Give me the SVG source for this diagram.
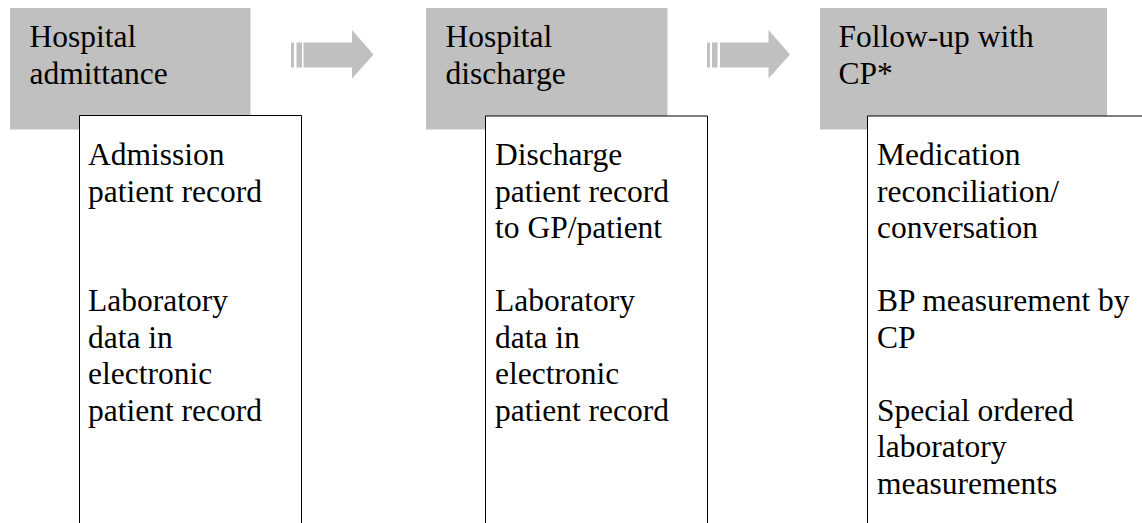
<svg xmlns="http://www.w3.org/2000/svg" width="1142" height="523" viewBox="0 0 1142 523">
  <style>
    .stage { fill: #c0c0c0; }
    .detail { fill: #ffffff; stroke: #000000; stroke-width: 1; }
    .flow { fill: #c0c0c0; }
    .label { font-family: 'Liberation Serif', 'Times New Roman', Times, serif; font-size: 31.5px; fill: #000000; }
  </style>
  <rect width="1142" height="523" fill="#ffffff"/>

  <!-- Flow arrows between the stages -->
  <g id="connectors">
    <g id="arrow-1" class="flow">
      <rect x="291" y="42.5" width="3" height="25"/>
      <rect x="296.5" y="42.5" width="5.5" height="25"/>
      <polygon points="303.5,42.5 352,42.5 352,30 373.5,54.5 352,78.5 352,67.5 303.5,67.5"/>
    </g>
    <g id="arrow-2" class="flow">
      <rect x="707" y="42.5" width="3" height="25"/>
      <rect x="712" y="42.5" width="5.5" height="25"/>
      <polygon points="720,42.5 768.5,42.5 768.5,30 790,54.5 768.5,78.5 768.5,67.5 720,67.5"/>
    </g>
  </g>

  <!-- Stage 1: hospital admittance -->
  <g id="stage-admittance" class="label">
    <rect class="stage" x="10" y="8" width="240.5" height="121.5"/>
    <text x="29.5" y="47">Hospital</text>
    <text x="29.5" y="83.5">admittance</text>
    <path class="detail" d="M79.5,530 V115.5 H301.5 V530"/>
    <text x="88" y="165">Admission</text>
    <text x="88" y="201.5">patient record</text>
    <text x="88" y="311">Laboratory</text>
    <text x="88" y="347.5">data in</text>
    <text x="88" y="384">electronic</text>
    <text x="88" y="420.5">patient record</text>
  </g>

  <!-- Stage 2: hospital discharge -->
  <g id="stage-discharge" class="label">
    <rect class="stage" x="426" y="8" width="241.5" height="121.5"/>
    <text x="445.5" y="47">Hospital</text>
    <text x="445.5" y="83.5">discharge</text>
    <path class="detail" d="M485.5,530 V116 H707.5 V530"/>
    <text x="495" y="165">Discharge</text>
    <text x="495" y="201.5">patient record</text>
    <text x="495" y="238">to GP/patient</text>
    <text x="495" y="311">Laboratory</text>
    <text x="495" y="347.5">data in</text>
    <text x="495" y="384">electronic</text>
    <text x="495" y="420.5">patient record</text>
  </g>

  <!-- Stage 3: follow-up with community pharmacist -->
  <g id="stage-followup" class="label">
    <rect class="stage" x="820" y="8" width="287" height="121.5"/>
    <text x="838.5" y="47">Follow-up with</text>
    <text x="838.5" y="83.5">CP*</text>
    <path class="detail" d="M867.5,530 V116 H1150 V530"/>
    <text x="877" y="165">Medication</text>
    <text x="877" y="201.5">reconciliation/</text>
    <text x="877" y="238">conversation</text>
    <text x="877" y="311">BP measurement by</text>
    <text x="877" y="347.5">CP</text>
    <text x="877" y="420.5">Special ordered</text>
    <text x="877" y="457">laboratory</text>
    <text x="877" y="493.5">measurements</text>
  </g>
</svg>
